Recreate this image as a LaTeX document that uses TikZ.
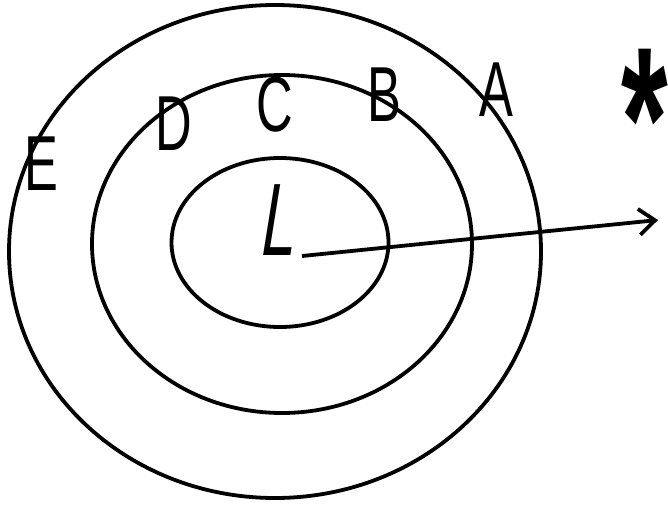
\documentclass[tikz,border=0pt]{standalone}
\usepackage{fontspec}
\usepackage{graphicx}
\setmainfont{Liberation Sans}
\newfontfamily\ringfont[FakeStretch=0.65]{Liberation Sans}
\newfontfamily\axisfont[FakeStretch=0.6,FakeSlant=0.16]{Liberation Sans}
\usetikzlibrary{arrows.meta}

\begin{document}
\begin{tikzpicture}[
    x=1pt, y=1pt,
    ring/.style={draw, line width=3.8pt},
    letter/.style={inner sep=0pt, font=\ringfont\fontsize{78}{78}\selectfont},
    arrow/.style={-{Straight Barb[length=16pt,width=26pt]}, line width=3.8pt}
]
    \useasboundingbox (0,0) rectangle (668,504);

    % rings
    \draw[ring] (275,252.5) ellipse [x radius=266, y radius=246.5];
    \draw[ring] (282,260) ellipse [x radius=190, y radius=169];
    \draw[ring] (280,261.5) ellipse [x radius=108.5, y radius=84.5];

    % labels
    \node[letter] (e) at (41.5,340.5) {E};
    \node[letter] (d) at (173.5,380) {D};
    \node[letter] (c) at (275,399) {C};
    \node[letter] (b) at (384,409) {B};
    \node[letter] (a) at (496,414.5) {A};
    \node[inner sep=0pt, anchor=base, font=\bfseries\fontsize{120}{120}\selectfont] (star) at (645,314) {\scalebox{1}[1.7]{*}};
    \node[inner sep=0pt, font=\axisfont\fontsize{103}{103}\selectfont] (ell) at (276,283.5) {L};

    \coordinate (tail) at (302,248);
    \coordinate (tip) at (658,284);
    \draw[arrow] (tail) -- (tip);
\end{tikzpicture}
\end{document}
